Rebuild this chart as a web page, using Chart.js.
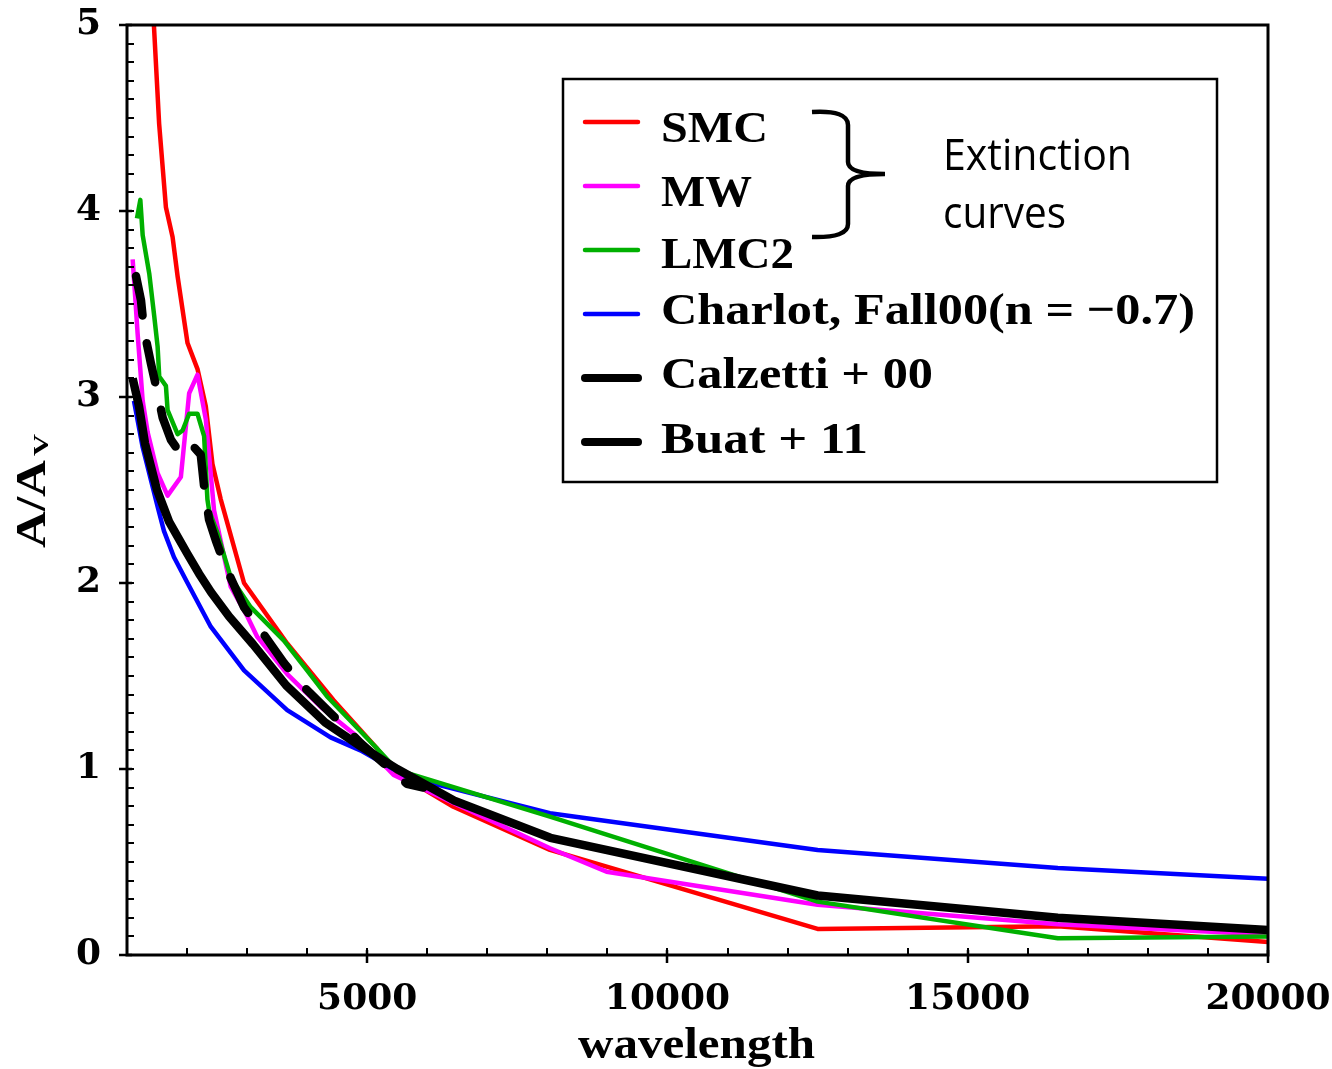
<!DOCTYPE html>
<html>
<head>
<meta charset="utf-8">
<script src="https://cdn.jsdelivr.net/npm/chart.js@4.4.0/dist/chart.umd.min.js"></script>
<style>
  html, body { margin: 0; padding: 0; background: #fff; }
  canvas { display: block; }
</style>
</head>
<body>
<canvas id="extChart" width="1332" height="1069"></canvas>
<script>
// axis ranges and ticks
const xMin = 1000, xMax = 20000, xMinorStep = 1000;
const yMin = 0, yMax = 5, yMinorStep = 0.1;
const xTickVals = [5000, 10000, 15000, 20000];
const yTickVals = [0, 1, 2, 3, 4, 5];

// SMC
const smcWave = [1300, 1535, 1648, 1759, 1842, 2008, 2174, 2312, 2423, 2561, 2949, 3668, 4440, 5164, 5496, 6435, 8043, 12500, 16500, 20000];
const smcA    = [5.9, 4.47, 4.02, 3.86, 3.65, 3.29, 3.15, 2.95, 2.64, 2.45, 2.0, 1.675, 1.37, 1.11, 0.977, 0.797, 0.565, 0.14, 0.155, 0.07];
// MW
const mwWave = [1094, 1122, 1177, 1261, 1344, 1510, 1676, 1897, 2035, 2174, 2312, 2450, 2727, 3004, 3170, 3668, 4222, 4776, 5440, 8043, 8985, 12500, 16500, 20000];
const mwA    = [3.74, 3.61, 3.34, 2.98, 2.81, 2.59, 2.47, 2.57, 3.02, 3.12, 2.88, 2.39, 1.98, 1.82, 1.71, 1.51, 1.335, 1.19, 0.968, 0.574, 0.448, 0.27, 0.165, 0.11];
// LMC2
const lmcWave = [1166, 1222, 1261, 1372, 1455, 1510, 1537, 1648, 1676, 1842, 1925, 2035, 2174, 2284, 2339, 2367, 2505, 2727, 3060, 3613, 3999, 4332, 5164, 5496, 8043, 12500, 16500, 20000];
const lmcA    = [3.96, 4.06, 3.87, 3.66, 3.43, 3.27, 3.11, 3.06, 2.93, 2.80, 2.82, 2.91, 2.91, 2.79, 2.45, 2.39, 2.27, 2.03, 1.87, 1.69, 1.53, 1.39, 1.11, 0.995, 0.744, 0.287, 0.09, 0.10];
// Charlot & Fall 2000
const cfWave = [1116, 1261, 1510, 1615, 1781, 2008, 2395, 2949, 3668, 4390, 4887, 5661, 8043, 12500, 16500, 20000];
const cfA    = [2.98, 2.73, 2.41, 2.28, 2.14, 2.0, 1.765, 1.53, 1.317, 1.17, 1.10, 0.958, 0.762, 0.565, 0.468, 0.41];
// Calzetti+00
const calzWave = [1094, 1200, 1300, 1500, 1700, 2000, 2200, 2400, 2700, 3100, 3650, 4300, 4900, 5500, 6450, 8050, 12500, 16500, 20000];
const calzA    = [3.10, 2.95, 2.75, 2.50, 2.33, 2.16, 2.05, 1.95, 1.82, 1.67, 1.45, 1.25, 1.12, 1.0, 0.83, 0.63, 0.32, 0.2, 0.135];
// Buat+11
const buatWave = [1150, 1233, 1283, 1399, 1510, 1593, 1731, 1925, 2117, 2228, 2284, 2367, 2478, 2616, 2949, 3226, 3613, 3917, 4390, 4887, 5661, 5935];
const buatA    = [3.65, 3.52, 3.36, 3.18, 3.02, 2.89, 2.77, 2.68, 2.73, 2.69, 2.52, 2.34, 2.23, 2.106, 1.87, 1.747, 1.57, 1.45, 1.30, 1.14, 0.92, 0.90];

function pts(xs, ys) {
    return xs.map((x, i) => ({ x: x, y: ys[i] }));
}

// draw text squeezed/stretched to a given width
function fitText(ctx, text, x, y, w) {
    const m = ctx.measureText(text).width;
    ctx.save();
    ctx.translate(x, y);
    ctx.scale(w / m, 1);
    ctx.fillText(text, 0, 0);
    ctx.restore();
}

const serif = '"Liberation Serif", "Times New Roman", serif';

const decor = {
    id: 'decor',
    afterDraw(chart) {
        const ctx = chart.ctx;
        const a = chart.chartArea;
        const xs = chart.scales.x, ys = chart.scales.y;
        ctx.save();
        ctx.strokeStyle = '#000';
        ctx.fillStyle = '#000';

        // minor ticks, pointing in
        ctx.lineWidth = 2;
        ctx.beginPath();
        for (let v = xMin; v <= xMax + 1; v += xMinorStep) {
            const px = Math.round(xs.getPixelForValue(v));
            ctx.moveTo(px, a.bottom);
            ctx.lineTo(px, a.bottom - 7);
        }
        for (let i = 0; i <= Math.round((yMax - yMin) / yMinorStep); i++) {
            const py = Math.round(ys.getPixelForValue(yMin + i * yMinorStep));
            ctx.moveTo(a.left, py);
            ctx.lineTo(a.left + 7, py);
        }
        ctx.stroke();

        // major ticks, pointing out
        ctx.lineWidth = 2.5;
        ctx.beginPath();
        xTickVals.forEach(v => {
            const px = Math.round(xs.getPixelForValue(v));
            ctx.moveTo(px, a.bottom - 5);
            ctx.lineTo(px, a.bottom + 8);
        });
        yTickVals.forEach(v => {
            const py = Math.round(ys.getPixelForValue(v));
            ctx.moveTo(a.left - 8, py);
            ctx.lineTo(a.left + 5, py);
        });
        ctx.stroke();

        // frame
        ctx.lineWidth = 3;
        ctx.strokeRect(a.left, a.top, a.right - a.left, a.bottom - a.top);

        // axis titles
        ctx.font = 'bold 44px ' + serif;
        ctx.textBaseline = 'alphabetic';
        fitText(ctx, 'wavelength', 578, 1058, 237);

        ctx.save();
        ctx.translate(45, 548);
        ctx.rotate(-Math.PI / 2);
        ctx.font = 'bold 42px ' + serif;
        fitText(ctx, 'A/A', 0, 0, 88);
        ctx.font = 'bold 22px ' + serif;
        fitText(ctx, 'V', 92, 3, 22);
        ctx.restore();

        // legend box
        const lx = 563, ly = 79, lw = 654, lh = 403;
        ctx.fillStyle = '#fff';
        ctx.fillRect(lx, ly, lw, lh);
        ctx.lineWidth = 2.5;
        ctx.strokeRect(lx, ly, lw, lh);

        const rowLine = [122, 186, 250, 314, 378, 442];
        const rowBase = [142, 206, 268, 324, 388, 453];
        const rowW = [107, 91, 133, 534, 272, 207];
        const labels = ['SMC', 'MW', 'LMC2', 'Charlot, Fall00(n = \u22120.7)', 'Calzetti + 00', 'Buat + 11'];
        chart.data.datasets.forEach((ds, i) => {
            ctx.strokeStyle = ds.borderColor;
            ctx.lineWidth = i < 4 ? 4.5 : 8;
            ctx.lineCap = 'round';
            ctx.beginPath();
            ctx.moveTo(585, rowLine[i]);
            ctx.lineTo(638, rowLine[i]);
            ctx.stroke();
            ctx.fillStyle = '#000';
            ctx.font = 'bold 45px ' + serif;
            fitText(ctx, labels[i], 661, rowBase[i], rowW[i]);
        });

        // brace and note
        ctx.strokeStyle = '#000';
        ctx.lineWidth = 4.5;
        ctx.lineCap = 'butt';
        ctx.beginPath();
        ctx.moveTo(812, 112);
        ctx.quadraticCurveTo(848, 110, 848, 125);
        ctx.lineTo(848, 162);
        ctx.quadraticCurveTo(848, 174, 885, 174);
        ctx.moveTo(885, 174);
        ctx.quadraticCurveTo(848, 174, 848, 186);
        ctx.lineTo(848, 224);
        ctx.quadraticCurveTo(848, 238, 812, 237);
        ctx.stroke();

        ctx.fillStyle = '#000';
        ctx.font = '44px "Open Sans", sans-serif';
        fitText(ctx, 'Extinction', 943, 170, 189);
        fitText(ctx, 'curves', 943, 228, 123);
        ctx.restore();
    }
};

const tickFont = { family: '"DejaVu Serif", serif', weight: 'bold', size: 36 };

const ctx = document.getElementById('extChart').getContext('2d');
new Chart(ctx, {
    type: 'line',
    data: {
        datasets: [
            { label: 'SMC', data: pts(smcWave, smcA), borderColor: '#ff0000', borderWidth: 4.5, order: 3 },
            { label: 'MW', data: pts(mwWave, mwA), borderColor: '#ff00ff', borderWidth: 4.5, order: 2 },
            { label: 'LMC2', data: pts(lmcWave, lmcA), borderColor: '#00b000', borderWidth: 4.5, order: 1 },
            { label: 'Charlot,Fall00', data: pts(cfWave, cfA), borderColor: '#0000ff', borderWidth: 4.5, order: 1 },
            { label: 'Calzetti+00', data: pts(calzWave, calzA), borderColor: '#000000', borderWidth: 8.5, order: 0 },
            { label: 'Buat+11', data: pts(buatWave, buatA), borderColor: '#000000', borderWidth: 8.5, order: 0,
              borderDash: [40, 28], borderCapStyle: 'round' }
        ]
    },
    options: {
        responsive: false,
        animation: false,
        events: [],
        layout: { padding: { left: 0, right: 64, top: 25, bottom: 0 } },
        elements: {
            point: { radius: 0 },
            line: { tension: 0, fill: false, borderJoinStyle: 'round' }
        },
        datasets: { line: { clip: 0 } },
        plugins: { legend: { display: false }, tooltip: { enabled: false } },
        scales: {
            x: {
                type: 'linear',
                min: xMin, max: xMax,
                afterBuildTicks: s => { s.ticks = xTickVals.map(v => ({ value: v })); },
                afterFit: s => { s.height = 114; s.paddingLeft = 0; s.paddingRight = 0; },
                grid: { display: false, drawTicks: false },
                border: { display: false },
                ticks: {
                    color: '#000', padding: 23, maxRotation: 0, autoSkip: false,
                    font: tickFont,
                    callback: v => String(v)
                }
            },
            y: {
                min: yMin, max: yMax,
                afterBuildTicks: s => { s.ticks = yTickVals.map(v => ({ value: v })); },
                afterFit: s => { s.width = 127; s.paddingTop = 0; s.paddingBottom = 0; },
                grid: { display: false, drawTicks: false },
                border: { display: false },
                ticks: {
                    color: '#000', padding: 26,
                    font: tickFont,
                    callback: v => String(v)
                }
            }
        }
    },
    plugins: [decor]
});
</script>
</body>
</html>
